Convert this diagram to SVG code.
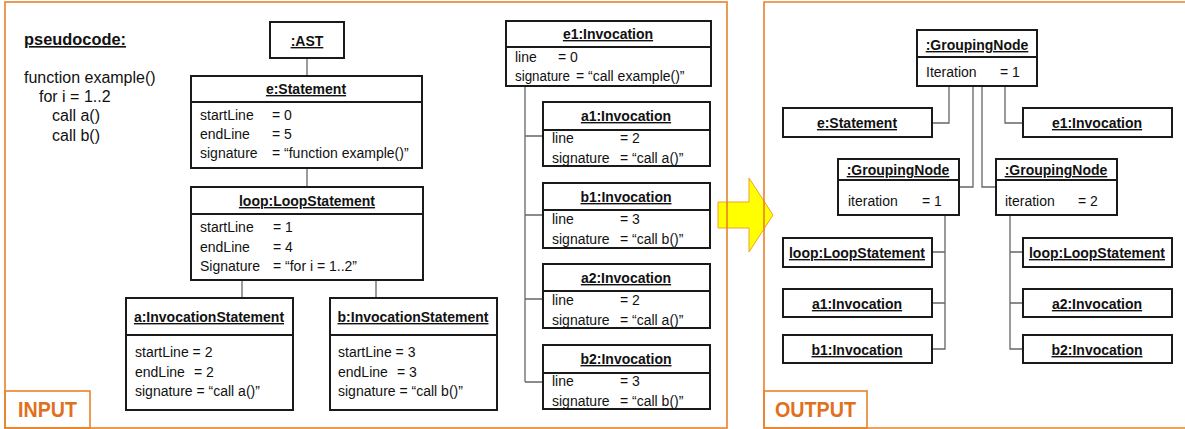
<svg xmlns="http://www.w3.org/2000/svg" width="1185" height="429" viewBox="0 0 1185 429">
  <style>
    text { font-family: "Liberation Sans", Arial, sans-serif; fill: #111; }
    .hd { font-weight: bold; font-size: 14px; text-decoration: underline; text-anchor: middle; }
    .at { font-size: 14px; }
    .code { font-size: 16px; }
    .lbl { font-weight: bold; font-size: 22px; fill: #E07020; }
    .box { fill: #fff; stroke: #1a1a1a; stroke-width: 2; }
    .div { stroke: #1a1a1a; stroke-width: 2; fill: none; }
    .con { stroke: #666; stroke-width: 1.3; fill: none; }
    .frame { fill: none; stroke: #E8822A; stroke-width: 1.6; }
  </style>

  <!-- transformation arrow -->
  <polygon id="arrow" points="718,202 749,202 749,178 773,215 749,252 749,228 718,228" fill="#FFFF00" stroke="#F0A030" stroke-width="1"/>

  <!-- panels -->
  <g id="panels">
    <rect class="frame" x="5" y="2" width="722" height="426"/>
    <path class="frame" d="M1190,2 H764 V428 H1190"/>
    <rect class="frame" x="5" y="391" width="85" height="37"/>
    <rect class="frame" x="764" y="391" width="103" height="37"/>
    <text class="lbl" x="18" y="417" textLength="59" lengthAdjust="spacingAndGlyphs">INPUT</text>
    <text class="lbl" x="775" y="417" textLength="81" lengthAdjust="spacingAndGlyphs">OUTPUT</text>
  </g>

  <!-- pseudocode listing -->
  <g id="pseudocode">
    <text x="24" y="45" font-size="16" font-weight="bold" text-decoration="underline" textLength="102" lengthAdjust="spacingAndGlyphs">pseudocode:</text>
    <text class="code" x="24" y="83">function example()</text>
    <text class="code" x="39" y="102">for i = 1..2</text>
    <text class="code" x="52" y="121">call a()</text>
    <text class="code" x="52" y="141">call b()</text>
  </g>

  <!-- connectors -->
  <g id="connectors">
    <path class="con" d="M307,58 V76"/>
    <path class="con" d="M307,168 V187"/>
    <path class="con" d="M242,280 V298"/>
    <path class="con" d="M376,280 V298"/>
    <path class="con" d="M525,86 V382 M525,136 H543 M525,215 H543 M525,299 H543 M525,382 H543"/>
    <path class="con" d="M949,86 V123 H932"/>
    <path class="con" d="M1005,86 V123 H1023"/>
    <path class="con" d="M973,86 V187 H959"/>
    <path class="con" d="M982,86 V187 H996"/>
    <path class="con" d="M945,215 V349 H932 M945,252 H932 M945,303 H932"/>
    <path class="con" d="M1010,215 V349 H1023 M1010,252 H1023 M1010,303 H1023"/>
  </g>

  <!-- input object tree -->
  <g id="ast">
    <rect class="box" x="270" y="22" width="74" height="36"/>
    <text class="hd" x="307" y="46">:AST</text>
  </g>

  <g id="e-statement">
    <rect class="box" x="191" y="76" width="231" height="92"/>
    <path class="div" d="M191,102 H422"/>
    <text class="hd" x="306" y="94">e:Statement</text>
    <text class="at" x="200" y="120">startLine</text><text class="at" x="272" y="120">= 0</text>
    <text class="at" x="200" y="139">endLine</text><text class="at" x="272" y="139">= 5</text>
    <text class="at" x="200" y="158">signature</text><text class="at" x="272" y="158">= “function example()”</text>
  </g>

  <g id="loop-statement">
    <rect class="box" x="191" y="187" width="232" height="93"/>
    <path class="div" d="M191,214 H423"/>
    <text class="hd" x="307" y="206">loop:LoopStatement</text>
    <text class="at" x="200" y="232">startLine</text><text class="at" x="273" y="232">= 1</text>
    <text class="at" x="200" y="252">endLine</text><text class="at" x="273" y="252">= 4</text>
    <text class="at" x="200" y="271">Signature</text><text class="at" x="273" y="271">= “for i = 1..2”</text>
  </g>

  <g id="a-invocation-statement">
    <rect class="box" x="126" y="298" width="167" height="112"/>
    <path class="div" d="M126,335 H293"/>
    <text class="hd" x="209" y="322">a:InvocationStatement</text>
    <text class="at" x="135" y="357">startLine = 2</text>
    <text class="at" x="135" y="377">endLine</text><text class="at" x="194" y="377">= 2</text>
    <text class="at" x="135" y="396">signature = “call a()”</text>
  </g>

  <g id="b-invocation-statement">
    <rect class="box" x="330" y="298" width="167" height="112"/>
    <path class="div" d="M330,335 H497"/>
    <text class="hd" x="413" y="322">b:InvocationStatement</text>
    <text class="at" x="338" y="357">startLine = 3</text>
    <text class="at" x="338" y="377">endLine</text><text class="at" x="397" y="377">= 3</text>
    <text class="at" x="338" y="396">signature = “call b()”</text>
  </g>

  <g id="e1-invocation">
    <rect class="box" x="506" y="21" width="205" height="65"/>
    <path class="div" d="M506,47 H711"/>
    <text class="hd" x="608" y="39">e1:Invocation</text>
    <text class="at" x="515" y="62">line</text><text class="at" x="558" y="62">= 0</text>
    <text class="at" x="515" y="81" textLength="55" lengthAdjust="spacingAndGlyphs">signature</text><text class="at" x="576" y="81">= “call example()”</text>
  </g>

  <g id="a1-invocation">
    <rect class="box" x="543" y="102" width="167" height="64"/>
    <path class="div" d="M543,130 H710"/>
    <text class="hd" x="626" y="121">a1:Invocation</text>
    <text class="at" x="552" y="143">line</text><text class="at" x="620" y="143">= 2</text>
    <text class="at" x="552" y="163">signature</text><text class="at" x="620" y="163">= “call a()”</text>
  </g>

  <g id="b1-invocation">
    <rect class="box" x="543" y="183" width="167" height="65"/>
    <path class="div" d="M543,210 H710"/>
    <text class="hd" x="626" y="202">b1:Invocation</text>
    <text class="at" x="552" y="224">line</text><text class="at" x="620" y="224">= 3</text>
    <text class="at" x="552" y="244">signature</text><text class="at" x="620" y="244">= “call b()”</text>
  </g>

  <g id="a2-invocation">
    <rect class="box" x="543" y="264" width="167" height="64"/>
    <path class="div" d="M543,291 H710"/>
    <text class="hd" x="626" y="283">a2:Invocation</text>
    <text class="at" x="552" y="305">line</text><text class="at" x="620" y="305">= 2</text>
    <text class="at" x="552" y="325">signature</text><text class="at" x="620" y="325">= “call a()”</text>
  </g>

  <g id="b2-invocation">
    <rect class="box" x="543" y="345" width="167" height="64"/>
    <path class="div" d="M543,373 H710"/>
    <text class="hd" x="626" y="364">b2:Invocation</text>
    <text class="at" x="552" y="386">line</text><text class="at" x="620" y="386">= 3</text>
    <text class="at" x="552" y="406">signature</text><text class="at" x="620" y="406">= “call b()”</text>
  </g>

  <!-- output grouping tree -->
  <g id="grouping-root">
    <rect class="box" x="917" y="30" width="120" height="56"/>
    <path class="div" d="M917,57 H1037"/>
    <text class="hd" x="977" y="50">:GroupingNode</text>
    <text class="at" x="926" y="77">Iteration</text><text class="at" x="1000" y="77">= 1</text>
  </g>

  <g id="out-e-statement">
    <rect class="box" x="783" y="108" width="149" height="29"/>
    <text class="hd" x="857" y="128">e:Statement</text>
  </g>

  <g id="out-e1-invocation">
    <rect class="box" x="1023" y="108" width="149" height="29"/>
    <text class="hd" x="1097" y="128">e1:Invocation</text>
  </g>

  <g id="grouping-iter1">
    <rect class="box" x="838" y="159" width="121" height="56"/>
    <path class="div" d="M838,180 H959"/>
    <text class="hd" x="898" y="175">:GroupingNode</text>
    <text class="at" x="848" y="206">iteration</text><text class="at" x="922" y="206">= 1</text>
  </g>

  <g id="grouping-iter2">
    <rect class="box" x="996" y="159" width="121" height="56"/>
    <path class="div" d="M996,180 H1117"/>
    <text class="hd" x="1056" y="175">:GroupingNode</text>
    <text class="at" x="1005" y="206">iteration</text><text class="at" x="1078" y="206">= 2</text>
  </g>

  <g id="out-loop-1">
    <rect class="box" x="783" y="238" width="149" height="29"/>
    <text class="hd" x="857" y="258">loop:LoopStatement</text>
  </g>
  <g id="out-a1">
    <rect class="box" x="783" y="289" width="149" height="28"/>
    <text class="hd" x="857" y="309">a1:Invocation</text>
  </g>
  <g id="out-b1">
    <rect class="box" x="783" y="335" width="149" height="28"/>
    <text class="hd" x="857" y="355">b1:Invocation</text>
  </g>

  <g id="out-loop-2">
    <rect class="box" x="1023" y="238" width="149" height="29"/>
    <text class="hd" x="1097" y="258">loop:LoopStatement</text>
  </g>
  <g id="out-a2">
    <rect class="box" x="1023" y="289" width="149" height="28"/>
    <text class="hd" x="1097" y="309">a2:Invocation</text>
  </g>
  <g id="out-b2">
    <rect class="box" x="1023" y="335" width="149" height="28"/>
    <text class="hd" x="1097" y="355">b2:Invocation</text>
  </g>
</svg>
